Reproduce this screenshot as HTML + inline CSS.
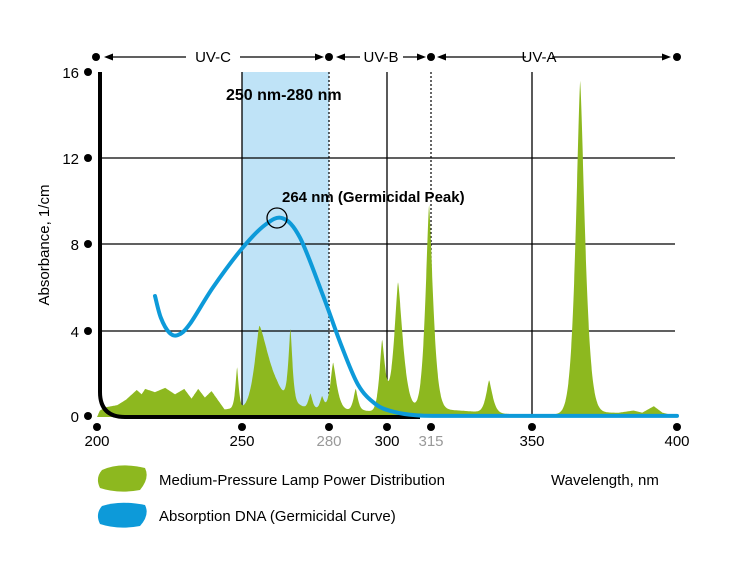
<!DOCTYPE html><html><head><style>body{margin:0;background:#fff}svg{display:block;font-family:"Liberation Sans",Arial,sans-serif}</style></head><body>
<svg id="s" width="750" height="572" viewBox="0 0 750 572">
<rect x="242" y="72" width="87" height="345" fill="#bfe3f7"/>
<g stroke="#000" stroke-width="1.3">
<line x1="100" y1="331" x2="675" y2="331"/><line x1="100" y1="244" x2="675" y2="244"/><line x1="100" y1="158" x2="675" y2="158"/>
<line x1="242" y1="72" x2="242" y2="417"/><line x1="387" y1="72" x2="387" y2="417"/><line x1="532" y1="72" x2="532" y2="417"/>
</g>
<g stroke="#000" stroke-width="1.2" stroke-dasharray="2,2"><line x1="329" y1="72" x2="329" y2="417"/><line x1="431" y1="72" x2="431" y2="417"/></g>
<path id="g" fill="#8db81f"/>
<path d="M100 72 V392 Q100 417 125 417 H420" fill="none" stroke="#000" stroke-width="4"/>
<path id="b" fill="none" stroke="#0d9ad9" stroke-width="4" stroke-linecap="round"/>
<circle cx="277" cy="218" r="10" fill="none" stroke="#000" stroke-width="1.3"/>
<text x="282" y="202" font-size="15" font-weight="bold">264 nm (Germicidal Peak)</text>
<text x="226" y="100" font-size="16" font-weight="bold">250 nm-280 nm</text>
<g fill="#000"><circle cx="96" cy="57" r="4"/><circle cx="329" cy="57" r="4"/><circle cx="431" cy="57" r="4"/><circle cx="677" cy="57" r="4"/>
<circle cx="88" cy="72" r="4"/><circle cx="88" cy="158" r="4"/><circle cx="88" cy="244" r="4"/><circle cx="88" cy="331" r="4"/><circle cx="88" cy="416" r="4"/>
<circle cx="97" cy="427" r="4"/><circle cx="242" cy="427" r="4"/><circle cx="329" cy="427" r="4"/><circle cx="387" cy="427" r="4"/><circle cx="431" cy="427" r="4"/><circle cx="532" cy="427" r="4"/><circle cx="677" cy="427" r="4"/></g>
<g stroke="#000" stroke-width="1.3"><line x1="110" y1="57" x2="186" y2="57"/><line x1="240" y1="57" x2="318" y2="57"/><line x1="342" y1="57" x2="360" y2="57"/><line x1="403" y1="57" x2="420" y2="57"/><line x1="444" y1="57" x2="526" y2="57"/><line x1="552" y1="57" x2="664" y2="57"/></g>
<g fill="#000"><path d="M104 57 l9 -3.5 v7z"/><path d="M324 57 l-9 -3.5 v7z"/><path d="M336 57 l9 -3.5 v7z"/><path d="M426 57 l-9 -3.5 v7z"/><path d="M437 57 l9 -3.5 v7z"/><path d="M671 57 l-9 -3.5 v7z"/></g>
<g font-size="15" text-anchor="middle"><text x="213" y="62">UV-C</text><text x="381" y="62">UV-B</text><text x="539" y="62">UV-A</text></g>
<g font-size="15" text-anchor="end"><text x="79" y="78">16</text><text x="79" y="164">12</text><text x="79" y="250">8</text><text x="79" y="337">4</text><text x="79" y="422">0</text></g>
<g font-size="15" text-anchor="middle"><text x="97" y="446">200</text><text x="242" y="446">250</text><text x="329" y="446" fill="#999">280</text><text x="387" y="446">300</text><text x="431" y="446" fill="#999">315</text><text x="532" y="446">350</text><text x="677" y="446">400</text></g>
<text transform="translate(49 245) rotate(-90)" font-size="15" text-anchor="middle">Absorbance, 1/cm</text>
<path d="M102 470 Q120 462 145 468 Q150 478 140 490 Q118 494 100 488 Q95 478 102 470Z" fill="#8db81f"/>
<path d="M102 506 Q120 500 145 505 Q150 515 140 526 Q118 530 100 524 Q95 514 102 506Z" fill="#0d9ad9"/>
<g font-size="15"><text x="159" y="485">Medium-Pressure Lamp Power Distribution</text><text x="159" y="521">Absorption DNA (Germicidal Curve)</text><text x="551" y="485">Wavelength, nm</text></g>
</svg>
<script>
function X(n){return 97+2.9*(n-200)}function Y(v){return 417-21.6*v}
var base=[[200,0],[201,0.3],[203,0.45],[207,0.55],[210,0.8],[213.7,1.25],[215.4,1.05],[216.6,1.3],[220,1.15],[223.5,1.35],[226.9,1.05],[230.1,1.3],[232.6,0.85],[234.9,1.3],[237.2,0.9],[239.5,1.2],[244,0.35],[247,0.4],[250,0.35],[252,0.4],[262,0.7],[266,0.6],[270,0.5],[272,0.4],[280,0.3],[284,0.35],[287,0.3],[292,0.3],[295,0.25],[300,0.3],[306,0.35],[311,0.3],[318,0.35],[325,0.3],[330,0.25],[340,0.15],[350,0.1],[360,0.12],[372,0.2],[380,0.2],[385,0.3],[388,0.2],[392,0.5],[395,0.2],[398,0.1],[400,0]];
function bl(n){for(var i=0;i<base.length-1;i++){if(n>=base[i][0]&&n<=base[i+1][0]){var t=(n-base[i][0])/(base[i+1][0]-base[i][0]);return base[i][1]+t*(base[i+1][1]-base[i][1]);}}return 0}
var pk=[[248.3,1.9,0.8,0.8],[256,3.7,2.4,5],[266.7,3.3,1.0,1.0],[273.6,0.7,1,1],[277.6,0.6,1,1],[281.4,2.2,1.4,1.8],[289.2,1.0,1.1,1.1],[298.3,3.2,1.3,1.5],[303.8,5.9,2.0,2.4],[314.5,9.5,1.8,2.0],[335.2,1.5,1.5,1.7],[366.6,15.4,2.2,2.4]];
var d="M"+X(200)+" 417";
for(var n=200;n<=400.001;n+=0.1){var v=bl(n);pk.forEach(function(p){var u=(n-p[0])/(n<p[0]?p[2]:p[3]);v+=p[1]*Math.exp(-Math.pow(Math.abs(u),1.4))});if(n>399.5)v=0;d+=" L"+X(n).toFixed(1)+" "+Y(v).toFixed(1);}
d+=" L"+X(400)+" 417Z";
document.getElementById("g").setAttribute("d",d);
var b=[[220,5.6],[222,4.6],[225,3.9],[228,3.8],[232,4.3],[240,6.0],[250,7.8],[258,8.9],[264,9.2],[270,8.3],[278,5.6],[284,3.4],[290,1.5],[296,0.6],[302,0.25],[310,0.08],[320,0.05],[360,0.05],[400,0.05]].map(function(p){return[X(p[0]),Y(p[1])]});
var e="M"+b[0][0]+" "+b[0][1];
for(var i=0;i<b.length-1;i++){var p0=b[i-1]||b[i],p1=b[i],p2=b[i+1],p3=b[i+2]||p2;
e+=" C"+(p1[0]+(p2[0]-p0[0])/6).toFixed(1)+" "+(p1[1]+(p2[1]-p0[1])/6).toFixed(1)+" "+(p2[0]-(p3[0]-p1[0])/6).toFixed(1)+" "+(p2[1]-(p3[1]-p1[1])/6).toFixed(1)+" "+p2[0].toFixed(1)+" "+p2[1].toFixed(1);}
document.getElementById("b").setAttribute("d",e);
</script>
</body></html>
